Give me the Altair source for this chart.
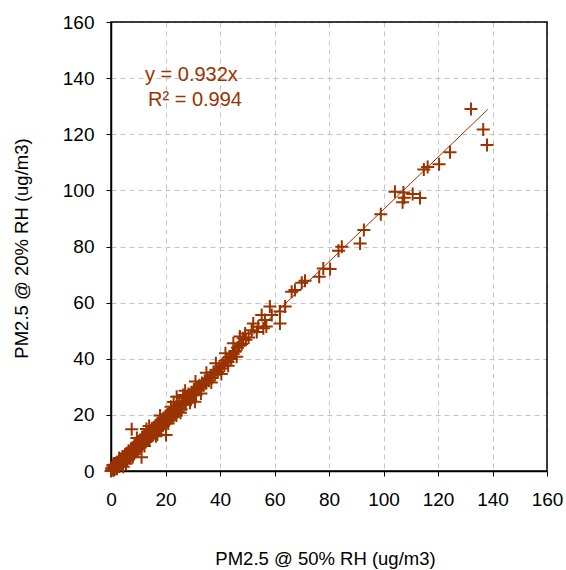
import altair as alt
import pandas as pd

# PM2.5 measured at 50% RH (x) vs 20% RH (y), ug/m3
x50 = [
    0.4, 0.7, 0.9, 1.1, 1.3, 1.6, 1.9, 2.1, 2.2, 2.5, 2.8, 3.0, 3.2, 3.5, 3.7, 4.0,
    4.2, 4.4, 4.7, 5.0, 5.2, 5.5, 5.7, 5.9, 6.2, 6.4, 6.6, 6.9, 7.1, 7.3, 7.6, 7.8,
    8.0, 8.3, 8.5, 8.7, 9.0, 9.2, 9.4, 9.7, 9.9, 10.1, 10.4, 10.6, 10.8, 11.1, 11.3,
    11.5, 11.8, 12.0, 12.2, 12.5, 12.7, 12.9, 13.2, 13.4, 13.6, 13.9, 14.1, 14.3,
    14.6, 14.8, 15.0, 15.3, 15.5, 15.7, 16.0, 16.2, 16.4, 16.7, 16.9, 17.1, 17.4,
    17.6, 17.8, 18.1, 18.3, 18.5, 18.8, 19.0, 19.2, 19.5, 19.7, 20.0, 20.2, 20.5,
    20.7, 21.0, 21.3, 21.5, 21.8, 22.1, 22.3, 22.6, 22.9, 23.2, 23.5, 23.8, 24.1,
    24.4, 24.7, 25.0, 25.4, 25.7, 26.0, 26.3, 26.7, 27.0, 27.4, 27.8, 28.1, 28.5,
    28.9, 29.2, 29.6, 30.0, 30.4, 30.8, 31.2, 31.6, 32.0, 32.5, 33.0, 33.4, 33.9,
    34.4, 34.9, 35.4, 35.9, 36.5, 37.0, 37.6, 38.1, 38.7, 39.2, 39.8, 40.4, 41.0,
    41.6, 42.2, 42.9, 43.5, 44.1, 44.8, 45.6, 46.4, 47.0, 48.0, 49.5, 50.5,
    # wider spread within the dense band
    9.5, 12.3, 14.0, 16.5, 18.0, 21.0, 23.0, 24.0, 27.2, 29.0, 31.0, 33.0, 35.0,
    36.8, 38.5, 40.5, 42.0, 43.0, 13.0, 17.0, 22.0, 25.5, 11.5, 8.0, 3.0, 5.5,
    # scattered points off the main band
    7.6, 20.2, 11.2, 30.8, 24.1, 26.5, 0.2, 0.8, 4.5, 46.1, 0.0,
    # upper range
    44.9, 45.5, 42.6, 47.3, 48.5, 49.2, 51.6, 54.0, 55.9, 52.2, 56.5, 55.3, 59.0,
    58.3, 62.0, 62.0, 63.9, 66.3, 67.5, 57.0, 53.5,
    70.0, 71.2, 76.4, 77.9, 80.4, 83.5, 84.7, 91.4, 92.8, 99.0,
    104.2, 107.3, 110.7, 113.4, 107.0, 107.6, 114.8, 116.2, 120.4, 124.4,
    132.1, 136.6, 138.0,
]
y20 = [
    0.6, 1.9, 0.2, 1.4, 0.5, 2.3, 1.1, 3.0, 0.8, 2.0, 3.4, 1.6, 2.7, 4.1, 2.2, 3.5,
    5.1, 2.9, 4.6, 3.6, 5.8, 4.3, 6.2, 3.9, 5.4, 7.1, 4.8, 6.3, 5.2, 7.9, 6.6, 5.6,
    8.3, 7.2, 6.1, 9.0, 7.9, 6.9, 9.6, 8.4, 10.2, 7.8, 9.3, 11.0, 8.7, 10.4, 9.2,
    12.1, 10.6, 9.6, 12.5, 11.2, 10.3, 13.0, 12.0, 10.9, 13.8, 12.6, 11.7, 14.2,
    13.1, 12.3, 15.1, 13.9, 12.8, 15.6, 14.6, 13.5, 16.3, 15.3, 14.2, 17.0, 15.8,
    14.9, 17.4, 16.6, 15.5, 18.2, 17.1, 16.2, 18.8, 17.9, 16.8, 19.5, 18.4, 17.6,
    20.1, 19.2, 18.1, 20.8, 19.9, 18.9, 21.6, 20.6, 19.6, 22.3, 21.3, 20.4, 23.0,
    22.1, 21.2, 23.9, 22.9, 22.0, 24.8, 23.8, 25.9, 24.6, 23.7, 26.5, 25.5, 27.4,
    26.2, 25.4, 28.1, 27.2, 29.0, 28.0, 27.1, 29.8, 28.9, 30.6, 29.7, 31.4, 30.5,
    32.1, 31.3, 33.0, 32.2, 34.0, 33.1, 35.2, 34.3, 36.1, 35.3, 37.2, 36.5, 38.3,
    37.6, 39.4, 38.8, 40.6, 39.9, 41.7, 42.8, 43.9, 44.6, 45.3, 46.8, 47.6,
    11.8, 8.9, 16.0, 12.4, 19.8, 16.9, 24.6, 19.8, 28.6, 24.3, 31.9, 27.6, 35.0,
    31.5, 38.4, 34.6, 42.0, 37.5, 15.0, 13.0, 22.9, 20.8, 11.9, 5.0, 4.6, 2.6,
    14.9, 12.8, 4.9, 24.7, 26.5, 27.1, 1.0, 2.1, 1.5, 40.7, 0.0,
    45.5, 42.5, 39.6, 47.9, 47.3, 49.0, 50.2, 51.4, 50.9, 52.6, 53.8, 55.6, 55.6,
    58.6, 56.8, 52.6, 58.6, 63.9, 64.5, 51.5, 49.5,
    67.1, 67.8, 69.2, 72.2, 72.0, 78.5, 79.9, 81.1, 85.9, 91.5,
    99.5, 99.2, 98.7, 97.3, 95.8, 97.4, 107.4, 108.3, 109.3, 113.6,
    129.0, 121.7, 116.2,
]

# least-squares fit through the origin
slope = 0.932
r_squared = 0.994
fit_x = [0.0, 138.3]

ticks = [0, 20, 40, 60, 80, 100, 120, 140, 160]
brown = "#993300"
font = "Liberation Sans"
plot_w, plot_h = 436, 449

pts = pd.DataFrame({"x": x50, "y": y20})
fit = pd.DataFrame({"x": fit_x, "y": [slope * v for v in fit_x]})

scale = alt.Scale(domain=[0, 160], nice=False)
axis_style = dict(
    values=ticks, grid=True, gridColor="#c4c4c4", gridDash=[5, 4], gridWidth=1,
    domainColor="#000000", domainWidth=1.5, tickColor="#000000", tickSize=5,
    tickWidth=1, labelFont=font, labelFontSize=19, labelColor="#000000",
    labelFlush=False, labelOverlap=False,
    titleFont=font, titleFontSize=18.5, titleFontWeight="normal", titleColor="#000000",
)

x_enc = alt.X("x:Q", scale=scale, axis=alt.Axis(
    title="PM2.5 @ 50% RH (ug/m3)", labelPadding=14,
    titleX=214, titleY=87, titleBaseline="middle", **axis_style))
y_enc = alt.Y("y:Q", scale=scale, axis=alt.Axis(
    title="PM2.5 @ 20% RH (ug/m3)", labelPadding=12,
    titleX=-90, titleY=226, titleBaseline="middle", **axis_style))

cross = "M-1,0L1,0M0,-1L0,1"
points = alt.Chart(pts).mark_point(
    shape=cross, size=169, filled=False, stroke=brown, strokeWidth=2, opacity=1
).encode(x=x_enc, y=y_enc)

line = alt.Chart(fit).mark_line(color=brown, strokeWidth=1).encode(
    x=alt.X("x:Q", scale=scale), y=alt.Y("y:Q", scale=scale))

# solid plot-area border drawn above the gridlines
frame = alt.Chart(pd.DataFrame({"f": [0]})).mark_rect(
    fill=None, stroke="#000000", strokeWidth=1.5
).encode(x=alt.value(0), x2=alt.value(plot_w), y=alt.value(0), y2=alt.value(plot_h))

eq_text = pd.DataFrame({"t": [f"y = {slope}x"]})
r2_text = pd.DataFrame({"t": [f"R\u00b2 = {r_squared}"]})
eq = alt.Chart(eq_text).mark_text(
    align="left", baseline="alphabetic", font=font, fontSize=20, color=brown
).encode(text="t:N", x=alt.value(34), y=alt.value(59))
r2 = alt.Chart(r2_text).mark_text(
    align="left", baseline="alphabetic", font=font, fontSize=20, color=brown
).encode(text="t:N", x=alt.value(37), y=alt.value(84))

chart = alt.layer(frame, points, line, eq, r2).properties(
    width=plot_w, height=plot_h,
    padding={"left": 111, "top": 22, "right": 19, "bottom": 99},
    autosize=alt.AutoSizeParams(type="none"),
).configure_view(stroke=None)

chart.save("out.html", embed_options={"renderer": "svg", "actions": False})
